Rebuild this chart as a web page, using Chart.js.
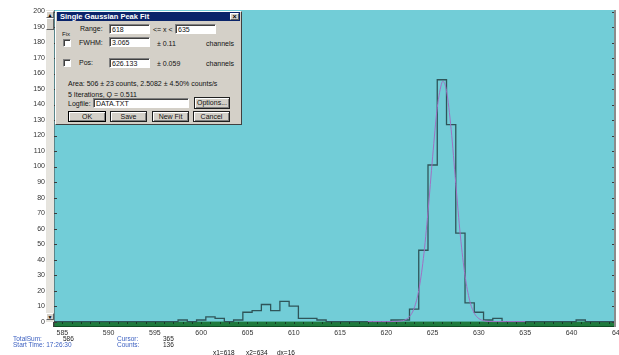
<!DOCTYPE html>
<html>
<head>
<meta charset="utf-8">
<script src="https://cdn.jsdelivr.net/npm/chart.js@4/dist/chart.umd.min.js"></script>
<style>
  html, body { margin: 0; padding: 0; background: #fff; }
  #wrap { position: relative; width: 619px; height: 355px; overflow: hidden; font-family: "Liberation Sans", Arial, sans-serif; }
  #c { position: absolute; left: 0; top: 0; }
  .abs { position: absolute; white-space: nowrap; }
  .t { font-size: 7px; line-height: 7px; color: #111; }
  .st { font-size: 6.5px; line-height: 7px; }
  .blue { color: #3b5fc0; }
  .dlg { background: #d4d0c8; border-top: 1px solid #fff; border-left: 1px solid #fff; border-right: 1px solid #404040; border-bottom: 1px solid #404040; box-sizing: border-box; }
  .title { background: #0a246a; color: #fff; font-weight: bold; font-size: 7.5px; line-height: 9px; padding-left: 3px; box-sizing: border-box; }
  .inp { background: #fff; border-top: 1px solid #808080; border-left: 1px solid #808080; border-right: 1px solid #fff; border-bottom: 1px solid #fff; box-shadow: inset 1px 1px 0 #404040; box-sizing: border-box; font-size: 7px; line-height: 7px; padding: 1px 0 0 2px; color: #111; }
  .chk { background: #fff; border-top: 1px solid #808080; border-left: 1px solid #808080; border-right: 1px solid #fff; border-bottom: 1px solid #fff; box-shadow: inset 1px 1px 0 #404040; box-sizing: border-box; }
  .btn { background: #d4d0c8; border: 1px solid #202020; box-shadow: inset 1px 1px 0 #fff, inset -1px -1px 0 #808080; box-sizing: border-box; font-size: 7px; line-height: 9px; text-align: center; color: #111; }
  .sb { background: #e6e4de; }
  .sbb { background: #d4d0c8; border-top: 1px solid #fff; border-left: 1px solid #fff; border-right: 1px solid #606060; border-bottom: 1px solid #606060; box-sizing: border-box; font-size: 5px; line-height: 6px; text-align: center; color: #000; }
</style>
</head>
<body>
<div id="wrap">
  <canvas id="c" width="619" height="355"></canvas>

  <!-- vertical scroll bar beside the count axis -->
  <div class="abs sb" style="left:46px; top:10px; width:8px; height:312px;"></div>
  <div class="abs sbb" style="left:46px; top:11px; width:8px; height:7px;">&#9650;</div>
  <div class="abs sbb" style="left:46px; top:18px; width:8px; height:12px;"></div>
  <div class="abs sbb" style="left:46px; top:313px; width:8px; height:7px;">&#9660;</div>

  <!-- peak fit dialog -->
  <div class="abs dlg" style="left:55px; top:11px; width:187px; height:114px;"></div>
  <div class="abs title" style="left:57px; top:12px; width:183px; height:9px;">Single Gaussian Peak Fit</div>
  <div class="abs sbb" style="left:230px; top:13px; width:9px; height:7px; font-size:7px; line-height:6px; font-weight:bold;">&#215;</div>

  <div class="abs t" style="left:80px; top:24.5px;">Range:</div>
  <div class="abs inp" style="left:109px; top:24px; width:41px; height:10px;">618</div>
  <div class="abs t" style="left:153px; top:25.5px;">&lt;= x &lt;</div>
  <div class="abs inp" style="left:175px; top:24px; width:41px; height:10px;">635</div>

  <div class="abs t" style="left:62px; top:30.5px; font-size:6px;">Fix</div>
  <div class="abs chk" style="left:63px; top:39px; width:8px; height:8px;"></div>
  <div class="abs t" style="left:79px; top:38.5px;">FWHM:</div>
  <div class="abs inp" style="left:109px; top:37px; width:41px; height:10px;">3.065</div>
  <div class="abs t" style="left:157px; top:39.5px;">± 0.11</div>
  <div class="abs t" style="left:206px; top:39.5px;">channels</div>

  <div class="abs chk" style="left:63px; top:59px; width:8px; height:8px;"></div>
  <div class="abs t" style="left:79px; top:58.5px;">Pos:</div>
  <div class="abs inp" style="left:109px; top:57.5px; width:41px; height:10px;">626.133</div>
  <div class="abs t" style="left:157px; top:59.5px;">± 0.059</div>
  <div class="abs t" style="left:206px; top:59.5px;">channels</div>

  <div class="abs t" style="left:68px; top:79.5px;">Area: 506 ± 23 counts, 2.5082 ± 4.50% counts/s</div>
  <div class="abs t" style="left:68px; top:90.5px;">5 Iterations, Q = 0.511</div>
  <div class="abs t" style="left:68px; top:99.5px;">Logfile:</div>
  <div class="abs inp" style="left:93px; top:98px; width:96px; height:10px;">DATA.TXT</div>
  <div class="abs btn" style="left:194px; top:97px; width:36px; height:12px;">Options...</div>

  <div class="abs btn" style="left:68px; top:111px; width:38px; height:11px; border:1.5px solid #000;">OK</div>
  <div class="abs btn" style="left:110px; top:111px; width:37px; height:11px;">Save</div>
  <div class="abs btn" style="left:152px; top:111px; width:37px; height:11px;">New Fit</div>
  <div class="abs btn" style="left:193px; top:111px; width:37px; height:11px;">Cancel</div>

  <!-- status line -->
  <div class="abs st blue" style="left:13px; top:335px;">TotalSum:</div>
  <div class="abs st" style="left:63px; top:335px; color:#222;">586</div>
  <div class="abs st blue" style="left:13px; top:340.5px;">Start Time: 17:26:30</div>
  <div class="abs st blue" style="left:117px; top:335px;">Cursor:</div>
  <div class="abs st" style="left:163px; top:335px; color:#222;">365</div>
  <div class="abs st blue" style="left:117px; top:340.5px;">Counts:</div>
  <div class="abs st" style="left:163px; top:340.5px; color:#222;">136</div>
  <div class="abs st" style="left:213px; top:348.5px; color:#111;">x1=618</div>
  <div class="abs st" style="left:246px; top:348.5px; color:#111;">x2=634</div>
  <div class="abs st" style="left:277px; top:348.5px; color:#111;">dx=16</div>
</div>

<script>
// Spectrum channels and the counts recorded in each one
const channels = [584,585,586,587,588,589,590,591,592,593,594,595,596,597,598,599,600,601,602,603,
                  604,605,606,607,608,609,610,611,612,613,614,615,616,617,618,619,620,621,622,623,
                  624,625,626,627,628,629,630,631,632,633,634,635,636,637,638,639,640,641,642,643,644,645];
const counts   = [0,0,0,0,0,0,0,0,0,0,0,0,0,0,1,0,1,3,2,0,
                  1,6,7,11,7,13,10,2,2,1,0,0,0,0,0,0,0,1,1,8,
                  46,101,156,127,57,12,6,1,2,0,0,0,0,0,0,0,0,1,0,0,0,0];

// Fitted peak curve over the fit range 618..635
const fitX = [618,618.5,619,619.5,620,620.5,621,621.5,622,622.5,623,623.5,624,624.5,625,625.5,
              626,626.1,626.5,627,627.5,628,628.5,629,629.5,630,630.5,631,631.5,632,633,634,635];
const fitY = [0,0,0,0,0,0,0.1,0.3,1.0,3.2,8.6,20.1,40.6,70.8,106.3,137.9,
              154.2,155,148.9,124.0,89.1,55.2,29.6,13.6,5.4,1.9,0.6,0.1,0,0,0,0,0];

// Axis tick values
const xTicks = [585,590,595,600,605,610,615,620,625,630,635,640,645];
const yTicks = [0,10,20,30,40,50,60,70,80,90,100,110,120,130,140,150,160,170,180,190,200];

const PLOT_BG = '#72cdd7';
const BASE_BAND = '#1f7a3d';

const spectrumFrame = {
  id: 'spectrumFrame',
  beforeDatasetsDraw(chart) {
    const { ctx, chartArea: a, scales: { y } } = chart;
    const y0 = y.getPixelForValue(0);
    ctx.save();
    ctx.fillStyle = PLOT_BG;
    ctx.fillRect(a.left, a.top, a.right - a.left, a.bottom - a.top);
    ctx.fillStyle = BASE_BAND;
    ctx.fillRect(a.left, y0, a.right - a.left, a.bottom - y0);
    ctx.fillStyle = '#0e4d22';
    ctx.fillRect(a.left, a.bottom - 1, a.right - a.left, 1);
    ctx.restore();
  },
  afterDatasetsDraw(chart) {
    const { ctx, chartArea: a, scales: { x, y } } = chart;
    const y0 = y.getPixelForValue(0);
    ctx.save();
    // channel ticks along the baseline band
    ctx.fillStyle = '#163a26';
    for (const c of channels) {
      const px = Math.round(x.getPixelForValue(c));
      if (px > a.left && px < a.right) ctx.fillRect(px, Math.round(y0), 1, 2);
    }
    // count ticks on both inner sides
    ctx.fillStyle = '#3a3a3a';
    for (const v of yTicks) {
      const py = Math.round(y.getPixelForValue(v));
      ctx.fillRect(a.left, py, 3, 1);
      ctx.fillRect(a.right - 3, py, 3, 1);
    }
    // frame
    ctx.fillStyle = '#404040';
    ctx.fillRect(a.left - 1, a.top, 1.5, a.bottom - a.top);
    ctx.fillStyle = '#8c8c8c';
    ctx.fillRect(a.right - 1, a.top, 2, a.bottom - a.top);
    ctx.restore();
  }
};

new Chart(document.getElementById('c'), {
  type: 'line',
  data: {
    datasets: [
      {
        label: 'fit',
        data: fitX.map((v, i) => ({ x: v, y: fitY[i] })),
        borderColor: '#a070c4',
        borderWidth: 1,
        pointRadius: 0,
        cubicInterpolationMode: 'monotone',
        fill: false
      },
      {
        label: 'counts',
        data: channels.map((c, i) => ({ x: c, y: counts[i] })),
        borderColor: '#2f5559',
        borderWidth: 1.3,
        pointRadius: 0,
        stepped: 'middle',
        fill: false
      }
    ]
  },
  options: {
    responsive: false,
    devicePixelRatio: 1,
    animation: false,
    layout: { padding: { top: 10, right: 4, left: 0, bottom: 0 } },
    plugins: { legend: { display: false }, tooltip: { enabled: false } },
    scales: {
      x: {
        type: 'linear',
        min: 584.1,
        max: 644.7,
        grid: { display: false, drawTicks: false, tickLength: 0 },
        border: { display: false },
        afterBuildTicks(scale) { scale.ticks = xTicks.map(v => ({ value: v })); },
        afterFit(scale) { scale.height = 28; scale.paddingRight = 0; scale.paddingLeft = 0; },
        ticks: {
          autoSkip: false,
          maxRotation: 0,
          padding: 2,
          color: '#333',
          font: { family: '"Liberation Sans", Arial, sans-serif', size: 7 },
          callback: v => String(v)
        }
      },
      y: {
        type: 'linear',
        min: -3.5,
        max: 201,
        grid: { display: false, drawTicks: false, tickLength: 0 },
        border: { display: false },
        afterBuildTicks(scale) { scale.ticks = yTicks.map(v => ({ value: v })); },
        afterFit(scale) { scale.width = 54; scale.paddingTop = 0; scale.paddingBottom = 0; },
        ticks: {
          autoSkip: false,
          padding: 9,
          color: '#333',
          font: { family: '"Liberation Sans", Arial, sans-serif', size: 7 },
          callback: v => String(v)
        }
      }
    }
  },
  plugins: [spectrumFrame]
});
</script>
</body>
</html>
